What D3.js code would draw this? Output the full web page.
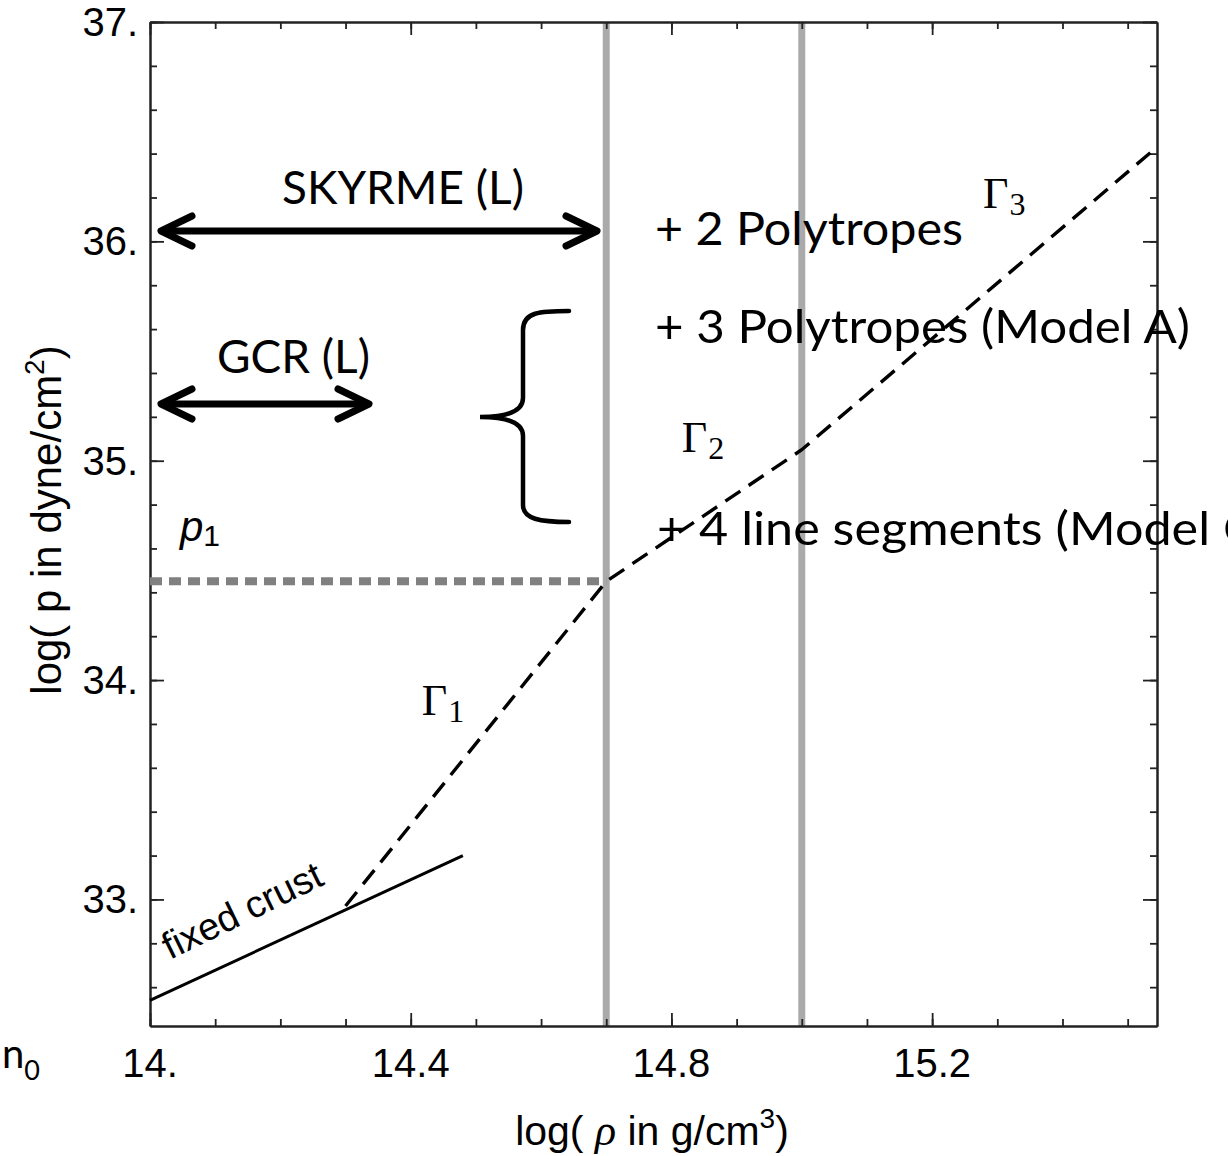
<!DOCTYPE html>
<html><head><meta charset="utf-8">
<script src="https://cdn.jsdelivr.net/npm/d3@7"></script>
<style>body{margin:0;background:#fff}svg{display:block}</style>
</head><body>
<script>
// ---- data ----
const xDomain = [14, 15.545];
const yDomain = [32.423, 37];
const xMajorTicks = [14, 14.4, 14.8, 15.2];
const yMajorTicks = [33, 34, 35, 36, 37];
const xTickLabels = ["14.", "14.4", "14.8", "15.2"];
const yTickLabels = ["33.", "34.", "35.", "36.", "37."];
const crustLine = [[14, 32.54], [14.48, 33.2]];
const polytropeX = [14.3, 14.7, 15.0, 15.545];
const polytropeY = [32.97, 34.45, 35.05, 36.43];
const dividers = [14.7, 15.0];
const p1Value = 34.45;
const gammaLabels = [
  {name: "Γ", sub: "1", x: 14.417, y: 33.841},
  {name: "Γ", sub: "2", x: 14.816, y: 35.04},
  {name: "Γ", sub: "3", x: 15.278, y: 36.152}
];

const W = 1228, H = 1156;
const svg = d3.select("body").append("svg").attr("width", W).attr("height", H);
const x = d3.scaleLinear().domain(xDomain).range([150, 1157]);
const y = d3.scaleLinear().domain(yDomain).range([1026, 22]);

// gray dividers
svg.selectAll("line.div").data(dividers).join("line")
  .attr("x1", d => x(d)).attr("x2", d => x(d))
  .attr("y1", y(yDomain[1])).attr("y2", y(yDomain[0]))
  .attr("stroke", "#aaaaaa").attr("stroke-width", 7);

// axes (ticks pointing inward on all four sides)
const xMinor = d3.range(14, 15.55, 0.1).map(v => +v.toFixed(2));
const yMinor = d3.range(32.6, 37.01, 0.2).map(v => +v.toFixed(2));
function ticks(axisGen, scale, vals, len, transform) {
  const g = svg.append("g").attr("transform", transform)
    .call(axisGen(scale).tickValues(vals).tickSize(len).tickSizeOuter(0).tickFormat(""));
  g.selectAll("line").attr("stroke", "#222").attr("stroke-width", 1.8);
  g.select(".domain").attr("stroke", "#222").attr("stroke-width", 2).attr("fill", "none");
  return g;
}
const bx = `translate(0,${y(yDomain[0])})`, tx = `translate(0,${y(yDomain[1])})`;
const lx = `translate(${x(xDomain[0])},0)`, rx = `translate(${x(xDomain[1])},0)`;
ticks(d3.axisBottom, x, xMinor, -7, bx);
ticks(d3.axisBottom, x, xMajorTicks, -13, bx);
ticks(d3.axisTop, x, xMinor, -7, tx);
ticks(d3.axisTop, x, xMajorTicks, -13, tx);
ticks(d3.axisLeft, y, yMinor, -7, lx);
ticks(d3.axisLeft, y, yMajorTicks, -14, lx);
ticks(d3.axisRight, y, yMinor, -7, rx);
ticks(d3.axisRight, y, yMajorTicks, -14, rx);

// tick labels
const tickFont = "'Liberation Sans', Arial, sans-serif";
svg.append("g").selectAll("text").data(xMajorTicks).join("text")
  .attr("x", d => x(d)).attr("y", 1077).attr("text-anchor", "middle")
  .attr("font-family", tickFont).attr("font-size", 40)
  .text((d, i) => xTickLabels[i]);
svg.append("g").selectAll("text").data(yMajorTicks).join("text")
  .attr("x", 138).attr("y", d => y(d) + 14).attr("text-anchor", "end")
  .attr("font-family", tickFont).attr("font-size", 40)
  .text((d, i) => yTickLabels[i]);

// axis titles
const xt = svg.append("text").attr("x", 652).attr("y", 1145).attr("text-anchor", "middle")
  .attr("font-family", tickFont).attr("font-size", 41);
xt.append("tspan").text("log( ");
xt.append("tspan").attr("font-style", "italic").attr("font-family", "'Liberation Serif', serif").attr("font-size", 44).text("ρ");
xt.append("tspan").text(" in g/cm");
xt.append("tspan").attr("font-size", 28).attr("dy", -17).text("3");
xt.append("tspan").attr("dy", 17).text(")");

const yt = svg.append("text").attr("transform", "translate(61,520) rotate(-90)").attr("text-anchor", "middle")
  .attr("font-family", tickFont).attr("font-size", 42);
yt.append("tspan").text("log( p in dyne/cm");
yt.append("tspan").attr("font-size", 28).attr("dy", -17).text("2");
yt.append("tspan").attr("dy", 17).text(")");

// p1 dashed horizontal line
svg.append("line")
  .attr("x1", x(14)).attr("x2", x(dividers[0])).attr("y1", y(p1Value)).attr("y2", y(p1Value))
  .attr("stroke", "#808080").attr("stroke-width", 8).attr("stroke-dasharray", "12,7");

// fixed crust
const line = d3.line().x(d => x(d[0])).y(d => y(d[1]));
svg.append("path").datum(crustLine).attr("d", line)
  .attr("fill", "none").attr("stroke", "#000").attr("stroke-width", 3);

// polytrope dashed
const polyPts = polytropeX.map((v, i) => [v, polytropeY[i]]);
svg.append("path").datum(polyPts).attr("d", line)
  .attr("fill", "none").attr("stroke", "#000").attr("stroke-width", 3.4)
  .attr("stroke-dasharray", "18,10");

// fixed crust label
svg.append("text").attr("transform", "translate(170,960) rotate(-26)")
  .attr("font-family", tickFont).attr("font-size", 38).text("fixed crust");

// gamma labels
gammaLabels.forEach(g => {
  const t = svg.append("text").attr("x", x(g.x)).attr("y", y(g.y))
    .attr("font-family", "'Liberation Serif', 'DejaVu Serif', serif").attr("font-size", 44);
  t.append("tspan").text(g.name);
  t.append("tspan").attr("font-size", 32).attr("dy", 7).attr("dx", 1).text(g.sub);
});

// p1 label
const p1 = svg.append("text").attr("x", 180).attr("y", 541)
  .attr("font-family", tickFont).attr("font-size", 42).attr("font-style", "italic");
p1.append("tspan").text("p");
p1.append("tspan").attr("font-size", 30).attr("font-style", "normal").attr("dy", 5).text("1");

// annotations (Calibri-like)
const annFont = "Lato, 'Open Sans', sans-serif";
function ann(txt, xx, yy, anchor, len) {
  const t = svg.append("text").attr("x", xx).attr("y", yy).attr("text-anchor", anchor || "start")
    .attr("font-family", annFont).attr("font-size", 47).attr("fill", "#000").text(txt);
  if (len) t.attr("textLength", len).attr("lengthAdjust", "spacingAndGlyphs");
  return t;
}
ann("SKYRME (L)", 282, 204, "start", 242);
ann("GCR (L)", 217, 373, "start", 153);
ann("+ 2 Polytropes", 655, 245, "start", 308);
ann("+ 3 Polytropes (Model A)", 655, 343, "start", 535);
ann("+ 4 line segments (Model C)", 657, 545, "start", 613);

// arrows
function dblArrow(x1, x2, yy) {
  const g = svg.append("g").attr("stroke", "#000").attr("stroke-width", 7)
    .attr("stroke-linecap", "round").attr("stroke-linejoin", "round").attr("fill", "none");
  g.append("line").attr("x1", x1 + 3).attr("x2", x2 - 3).attr("y1", yy).attr("y2", yy);
  g.append("path").attr("d", `M${x1 + 31},${yy - 15} L${x1},${yy} L${x1 + 31},${yy + 15}`);
  g.append("path").attr("d", `M${x2 - 31},${yy - 15} L${x2},${yy} L${x2 - 31},${yy + 15}`);
}
dblArrow(161, 597, 231);
dblArrow(161, 369, 404);

// brace
svg.append("path")
  .attr("d", "M569,311 C540,311 523,312 523,330 L523,398 C523,412 505,417 480,417 C505,417 523,422 523,436 L523,505 C523,519 540,522 569,522")
  .attr("fill", "none").attr("stroke", "#000").attr("stroke-width", 4.5).attr("stroke-linecap", "round");

// cropped context text at left edge
const n0 = svg.append("text").attr("x", 2).attr("y", 1068).attr("font-family", annFont).attr("font-size", 40);
n0.append("tspan").text("n");
n0.append("tspan").attr("font-size", 27).attr("dy", 12).text("0");
svg.append("text").attr("x", -13).attr("y", 726).attr("font-family", annFont).attr("font-size", 50).text(")");
</script>
</body></html>
